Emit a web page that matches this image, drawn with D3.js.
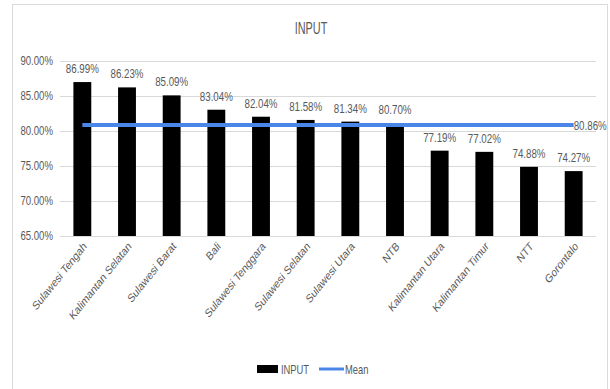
<!DOCTYPE html>
<html>
<head>
<meta charset="utf-8">
<script src="https://cdn.jsdelivr.net/npm/d3@7"></script>
<style>
  html, body { margin: 0; padding: 0; background: #fff; }
  svg text { font-family: "Liberation Sans", Arial, sans-serif; fill: #595959; }
</style>
</head>
<body>
<svg id="chart" width="610" height="389"></svg>
<script>
const categories = ["Sulawesi Tengah", "Kalimantan Selatan", "Sulawesi Barat", "Bali",
  "Sulawesi Tenggara", "Sulawesi Selatan", "Sulawesi Utara", "NTB",
  "Kalimantan Utara", "Kalimantan Timur", "NTT", "Gorontalo"];
const inputValues = [86.99, 86.23, 85.09, 83.04, 82.04, 81.58, 81.34, 80.70, 77.19, 77.02, 74.88, 74.27];
const meanValue = 80.86;
const yTicks = [65, 70, 75, 80, 85, 90];

const svg = d3.select("#chart");
const plot = { left: 60, right: 596, top: 61, bottom: 236 };

// chart frame
svg.append("rect")
  .attr("x", 12.5).attr("y", 4.5).attr("width", 595).attr("height", 390)
  .attr("fill", "#fff").attr("stroke", "#d9d9d9").attr("stroke-width", 1);

const x = d3.scaleBand().domain(categories).range([plot.left, plot.right]).paddingInner(0.6).paddingOuter(0.3);
const y = d3.scaleLinear().domain([65, 90]).range([plot.bottom, plot.top]);
const fmt = v => v.toFixed(2) + "%";
const cx = d => x(d) + x.bandwidth() / 2;

// condensed text helper; "after" is applied in the condensed space
function label(g, px, py, str, size, sq, anchor, after) {
  return g.append("text")
    .attr("transform", `translate(${px},${py}) scale(${sq},1)${after || ""}`)
    .attr("text-anchor", anchor || "start")
    .attr("font-size", size)
    .text(str);
}

// title
label(svg, 311, 34, "INPUT", 17, 0.64, "middle");

// gridlines
const yAxis = d3.axisLeft(y).tickValues(yTicks).tickSize(-(plot.right - plot.left)).tickFormat("");
const gy = svg.append("g").attr("transform", `translate(${plot.left},0)`).call(yAxis);
gy.select(".domain").remove();
gy.selectAll("line").attr("stroke", "#d9d9d9").attr("stroke-width", 1);

// y tick labels
const gyl = svg.append("g");
yTicks.forEach(t => label(gyl, plot.left - 7, y(t) + 4, t.toFixed(2) + "%", 12, 0.8, "end"));

// bars
svg.append("g").selectAll("rect").data(categories).join("rect")
  .attr("x", d => x(d)).attr("width", x.bandwidth())
  .attr("y", (d, i) => y(inputValues[i]))
  .attr("height", (d, i) => y(65) - y(inputValues[i]))
  .attr("fill", "#000");

// bar value labels, lifted clear of the mean line when they would touch it
const gv = svg.append("g");
const meanY = y(meanValue);
categories.forEach((d, i) => {
  let by = y(inputValues[i]) - 9;
  if (by > meanY - 11 && by - 10 < meanY + 3) by = meanY - 11;
  label(gv, cx(d), by, fmt(inputValues[i]), 13, 0.75, "middle");
});

// mean line
const line = d3.line().x(d => cx(d)).y(() => meanY);
svg.append("path").datum(categories).attr("d", line)
  .attr("fill", "none").attr("stroke", "#4a86e8").attr("stroke-width", 4);
label(svg, cx(categories[categories.length - 1]), meanY + 5, fmt(meanValue), 13, 0.75, "start");

// x axis labels (rotated inside the condensed space)
const gx = svg.append("g");
categories.forEach(d => label(gx, cx(d) + 5, plot.bottom + 11, d, 12, 0.8, "end", " rotate(-45)"));

// legend
const lg = svg.append("g");
lg.append("rect").attr("x", 257).attr("y", 365).attr("width", 21).attr("height", 8).attr("fill", "#000");
label(lg, 281, 374, "INPUT", 12.5, 0.75, "start");
lg.append("line").attr("x1", 319).attr("x2", 344).attr("y1", 369).attr("y2", 369)
  .attr("stroke", "#4a86e8").attr("stroke-width", 3);
label(lg, 345, 374, "Mean", 12.5, 0.75, "start");
</script>
</body>
</html>
